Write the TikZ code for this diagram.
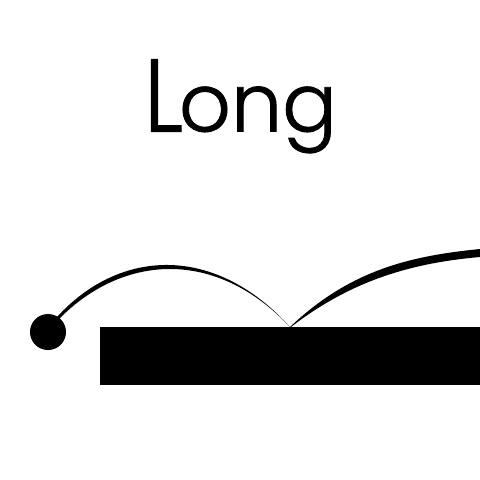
\documentclass[tikz,border=0pt]{standalone}
\usepackage{graphicx}
\usepackage{fontspec}
\newfontfamily\lng{Poppins Light}[BoldFont={Poppins Light},BoldFeatures={FakeBold=1.0}]
\begin{document}
\begin{tikzpicture}[x=0.025cm,y=-0.025cm]
\tikzset{ink/.style={fill=black,draw=none}}
\useasboundingbox (0,0) rectangle (480,480);
\fill[white] (0,0) rectangle (480,480);
% title
\node[inner sep=0,anchor=base west] (word) at (143.5,131.5)
  {\lng\bfseries\resizebox{0.98cm}{1.8cm}{L}\kern-0.1cm\resizebox{!}{1.125cm}{ong}};
% bar and ball
\coordinate (barNW) at (100,327);
\coordinate (barSE) at (480,385);
\fill[ink] (barNW) rectangle (barSE);
\coordinate (ball) at (48,332);
\fill[ink] (ball) circle[radius=0.45cm];
% first bounce arc (crescent)
\fill[ink] (57,317) .. controls (120,248) and (215,244) .. (290,327)
  .. controls (215,247) and (122,255) .. (59,319) -- cycle;
% second arc (tapered, leaving the picture)
\fill[ink] (290,327) .. controls (350,270) and (410,256) .. (480,249)
  -- (480,257) .. controls (412,263) and (352,280) .. (291,327) -- cycle;
\end{tikzpicture}
\end{document}
